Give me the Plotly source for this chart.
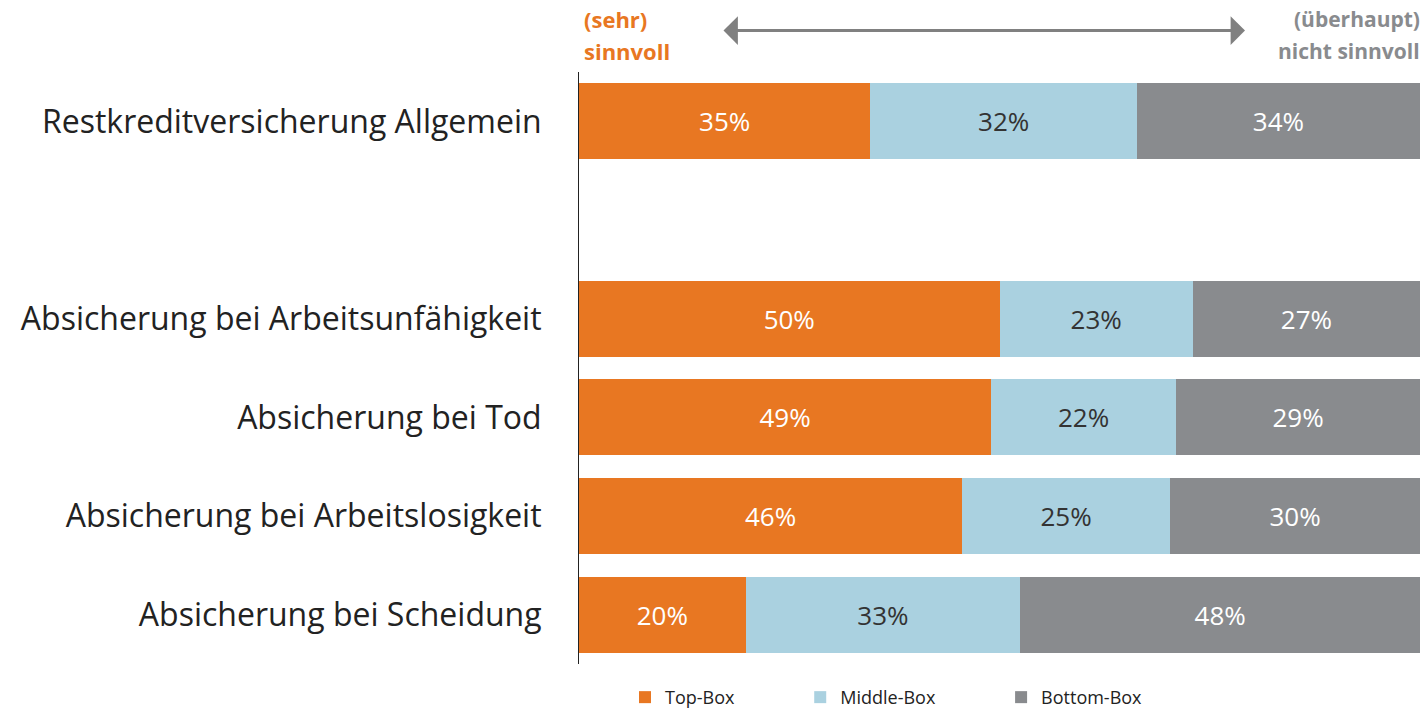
import plotly.graph_objects as go

categories = ["Restkreditversicherung Allgemein", " ", "Absicherung bei Arbeitsunfähigkeit",
              "Absicherung bei Tod", "Absicherung bei Arbeitslosigkeit", "Absicherung bei Scheidung"]
top_box = [35, None, 50, 49, 46, 20]
middle_box = [32, None, 23, 22, 25, 33]
bottom_box = [34, None, 27, 29, 30, 48]
series_names = ["Top-Box", "Middle-Box", "Bottom-Box"]
colors = ["#E87722", "#AAD1E0", "#898B8E"]
text_colors = ["#FFFFFF", "#333333", "#FFFFFF"]

FONT = "Open Sans"
W, H = 1424, 713
L, R, T, B = 579, 4, 71.5, 48.5

pad = "&nbsp;" * 13

fig = go.Figure()
for name, vals, col, tcol in zip(series_names, [top_box, middle_box, bottom_box], colors, text_colors):
    fig.add_trace(go.Bar(
        y=categories, x=vals, name=name + pad, orientation="h",
        marker=dict(color=col, line=dict(width=0)),
        text=[f"{v}%" if v is not None else "" for v in vals],
        textposition="inside", insidetextanchor="middle",
        textfont=dict(family=FONT, size=26, color=tcol),
        hoverinfo="skip",
    ))

def px_x(p):
    return (p - L) / (W - L - R)

def px_y(p):
    return (H - B - p) / (H - T - B)

fig.update_layout(
    width=W, height=H, barmode="stack", barnorm="percent", bargap=0.23,
    margin=dict(l=L, r=R, t=T, b=B, pad=0, autoexpand=False),
    paper_bgcolor="white", plot_bgcolor="white",
    font=dict(family=FONT, color="#222222"),
    xaxis=dict(range=[0, 100], visible=False, fixedrange=True),
    yaxis=dict(categoryorder="array", categoryarray=categories, autorange="reversed",
               showline=True, linecolor="#222222", linewidth=1, showgrid=False,
               ticks="", ticklabelstandoff=30, fixedrange=True,
               tickfont=dict(family=FONT, size=32, color="#222222")),
    legend=dict(orientation="h", x=px_x(625), xanchor="left", y=px_y(698), yanchor="middle",
                font=dict(family=FONT, size=18, color="#222222"), itemwidth=30,
                traceorder="normal"),
    showlegend=True,
)

fig.add_annotation(xref="paper", yref="paper", x=px_x(582), y=px_y(18), xanchor="left", yanchor="middle",
                   text="<b>(sehr)</b>", showarrow=False, font=dict(family=FONT, size=22, color="#E87722"))
fig.add_annotation(xref="paper", yref="paper", x=px_x(582), y=px_y(50), xanchor="left", yanchor="middle",
                   text="<b>sinnvoll</b>", showarrow=False, font=dict(family=FONT, size=22, color="#E87722"))
fig.add_annotation(xref="paper", yref="paper", x=px_x(1422), y=px_y(18), xanchor="right", yanchor="middle",
                   text="<b>(überhaupt)</b>", showarrow=False, font=dict(family=FONT, size=21, color="#898B8E"))
fig.add_annotation(xref="paper", yref="paper", x=px_x(1422), y=px_y(50), xanchor="right", yanchor="middle",
                   text="<b>nicht sinnvoll</b>", showarrow=False, font=dict(family=FONT, size=21, color="#898B8E"))
fig.add_annotation(xref="paper", yref="paper", axref="pixel", ayref="pixel",
                   x=px_x(1245), y=px_y(30), ax=-(1245 - 722), ay=0, text="",
                   showarrow=True, arrowhead=1, startarrowhead=1, arrowside="end+start",
                   arrowwidth=3, arrowsize=1.6, startarrowsize=1.6, arrowcolor="#808080")

fig.write_html("out.html", config={"displayModeBar": False},
               post_script="document.body.style.margin='0';document.body.style.overflow='hidden';")
